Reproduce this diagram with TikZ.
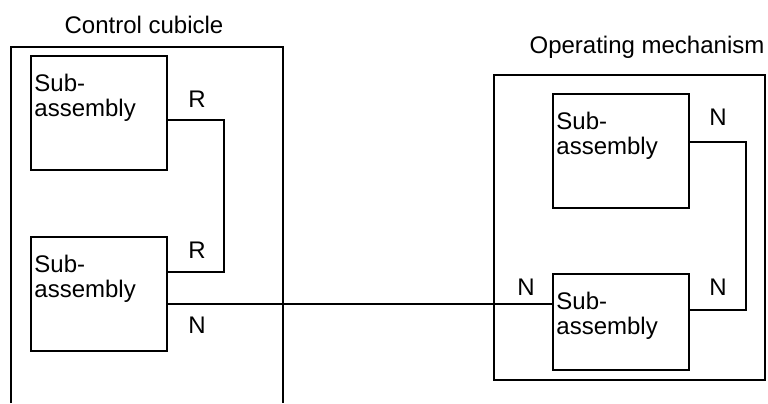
\documentclass[tikz,border=0pt]{standalone}
\usepackage{fontspec}
\setmainfont{Liberation Sans}
\begin{document}
\begin{tikzpicture}[x=1bp,y=-1bp,
  font=\fontsize{24bp}{25bp}\selectfont,
  frame/.style={draw,line width=1.8bp},
  subbox/.style={draw,line width=1.5bp,minimum width=136bp,minimum height=114bp,inner sep=0pt,
    label={[anchor=north west,align=left,inner sep=0pt,xshift=4bp,yshift=-19bp]north west:Sub-\\assembly}},
  wire/.style={line width=1.3bp},
  tag/.style={anchor=base}]
\useasboundingbox (0,0) rectangle (768,403);

% titles
\node[tag] (cctitle) at (144,33) {Control cubicle};
\node[tag] (omtitle) at (647,53) {Operating mechanism};

% frames
\draw[frame] (11,403) |- (283,47) -- (283,403);
\node[frame,minimum width=271bp,minimum height=305bp,inner sep=0pt] (om) at (629.5,227.5) {};

% nodes
\node[subbox] (cc1) at (99,113) {};
\node[subbox] (cc2) at (99,294) {};
\node[subbox] (om1) at (621,151) {};
\node[subbox,minimum height=96bp] (om2) at (621,322) {};

% corners
\coordinate (r1) at (224,120);
\coordinate (r2) at (224,272);
\coordinate (n0) at (360,304);
\coordinate (n1) at (746,142);
\coordinate (n2) at (746,310);

% wires
\draw[wire] (cc1.east |- r1) -- (r1) -- (r2) -- (cc2.east |- r2);
\draw[wire] (cc2.east |- n0) -- (om2.west |- n0);
\draw[wire] (om1.east |- n1) -- (n1) -- (n2) -- (om2.east |- n2);

% wire labels
\node[tag] (rtop) at (197,107) {R};
\node[tag] (rbot) at (197,258) {R};
\node[tag] (nleft) at (197,333) {N};
\node[tag] (nmid) at (526,295) {N};
\node[tag] (ntop) at (718,125) {N};
\node[tag] (nbot) at (718,295) {N};
\end{tikzpicture}
\end{document}
